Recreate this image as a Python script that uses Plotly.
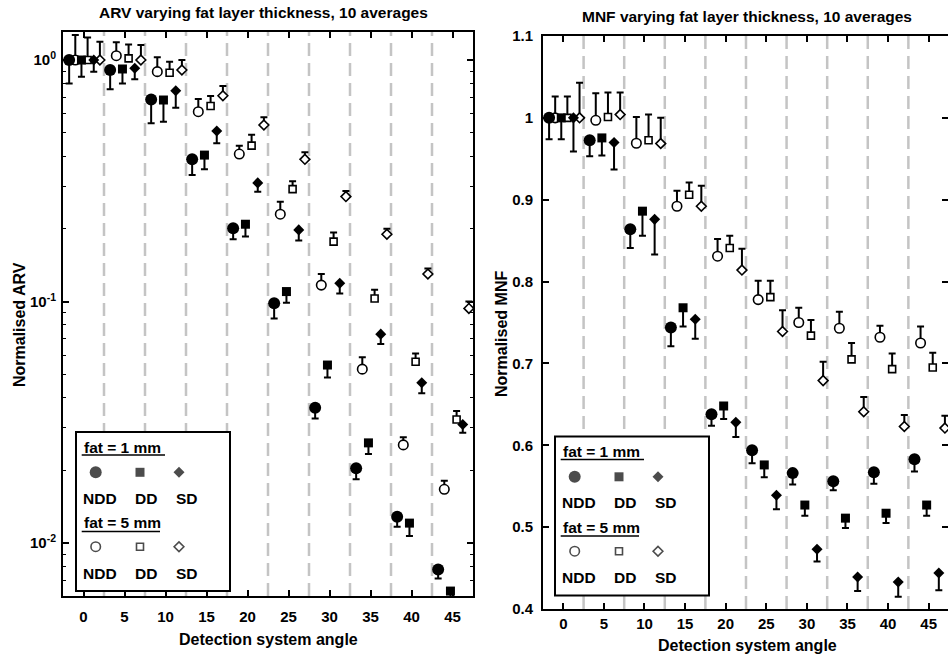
import plotly.graph_objects as go

# ---------------- data ----------------
angles = [0, 5, 10, 15, 20, 25, 30, 35, 40, 45]
series_names = ["NDD (fat 1 mm)", "NDD (fat 5 mm)", "DD (fat 1 mm)", "DD (fat 5 mm)", "SD (fat 1 mm)", "SD (fat 5 mm)"]
angle_offsets = [-1.75, -1.0, -0.25, 0.5, 1.25, 2.0]

# ARV (normalised) -- fat 1 mm values with lower bound, fat 5 mm values with upper bound
arv_ndd1 = [1.0, 0.909, 0.687, 0.388, 0.201, 0.0983, 0.0363, 0.0204, 0.01285, 0.00778]
arv_ndd1_low = [0.80, 0.756, 0.547, 0.334, 0.181, 0.0851, 0.0328, 0.0184, 0.0117, 0.00714]
arv_ndd5 = [1.0, 1.042, 0.895, 0.611, 0.408, 0.230, 0.117, 0.0525, 0.0255, 0.0167]
arv_ndd5_high = [1.269, 1.184, 1.026, 0.69, 0.442, 0.259, 0.130, 0.0588, 0.0274, 0.0181]
arv_dd1 = [1.0, 0.918, 0.683, 0.404, 0.209, 0.110, 0.0546, 0.026, 0.0121, 0.00633]
arv_dd1_low = [0.853, 0.80, 0.555, 0.353, 0.186, 0.0989, 0.0485, 0.0234, 0.0107, 0.0057]
arv_dd5 = [1.0, 1.016, 0.886, 0.645, 0.442, 0.292, 0.177, 0.103, 0.0563, 0.0325]
arv_dd5_high = [1.24, 1.16, 0.984, 0.709, 0.49, 0.315, 0.193, 0.112, 0.061, 0.0352]
arv_sd1 = [1.0, 0.924, 0.746, 0.508, 0.310, 0.198, 0.119, 0.0733, 0.0461, 0.031]
arv_sd1_low = [0.895, 0.832, 0.635, 0.452, 0.285, 0.179, 0.108, 0.0667, 0.0417, 0.0286]
arv_sd5 = [1.0, 1.0, 0.909, 0.711, 0.538, 0.388, 0.272, 0.19, 0.130, 0.0937]
arv_sd5_high = [1.19, 1.154, 1.0, 0.78, 0.579, 0.415, 0.287, 0.2, 0.137, 0.1]

# MNF (normalised)
mnf_ndd1 = [1.0, 0.9726, 0.864, 0.744, 0.638, 0.594, 0.566, 0.556, 0.567, 0.583]
mnf_ndd1_low = [0.974, 0.953, 0.841, 0.721, 0.624, 0.578, 0.552, 0.545, 0.553, 0.568]
mnf_ndd5 = [1.0, 0.997, 0.969, 0.892, 0.831, 0.778, 0.750, 0.743, 0.732, 0.725]
mnf_ndd5_high = [1.026, 1.03, 1.001, 0.911, 0.852, 0.801, 0.768, 0.763, 0.746, 0.745]
mnf_dd1 = [1.0, 0.9755, 0.886, 0.768, 0.648, 0.576, 0.527, 0.511, 0.517, 0.527]
mnf_dd1_low = [0.974, 0.954, 0.856, 0.745, 0.632, 0.561, 0.514, 0.499, 0.505, 0.514]
mnf_dd5 = [1.0, 1.001, 0.9726, 0.906, 0.841, 0.781, 0.734, 0.705, 0.693, 0.695]
mnf_dd5_high = [1.026, 1.031, 1.004, 0.921, 0.856, 0.801, 0.753, 0.725, 0.712, 0.713]
mnf_sd1 = [1.0, 0.970, 0.876, 0.754, 0.628, 0.539, 0.473, 0.439, 0.433, 0.444]
mnf_sd1_low = [0.959, 0.937, 0.833, 0.730, 0.610, 0.522, 0.458, 0.422, 0.415, 0.423]
mnf_sd5 = [1.0, 1.004, 0.9686, 0.892, 0.814, 0.739, 0.679, 0.641, 0.623, 0.621]
mnf_sd5_high = [1.043, 1.031, 1.0, 0.917, 0.840, 0.765, 0.702, 0.659, 0.637, 0.636]

x_ticks = [0, 5, 10, 15, 20, 25, 30, 35, 40, 45]
arv_tickvals = [0.01, 0.1, 1]
arv_ticktext = ["10<sup>-2</sup>", "10<sup>-1</sup>", "10<sup>0</sup>"]
mnf_tickvals = [0.4, 0.5, 0.6, 0.7, 0.8, 0.9, 1.0, 1.1]
mnf_ticktext = ["0.4", "0.5", "0.6", "0.7", "0.8", "0.9", "1", "1.1"]
separators = [2.5, 7.5, 12.5, 17.5, 22.5, 27.5, 32.5, 37.5, 42.5]
legend_groups = ["fat = 1 mm ", "fat = 5 mm"]
legend_labels = ["NDD", "DD", "SD"]

# ---------------- styling ----------------
W, H = 948, 660
FONT = "Liberation Sans, Arial, sans-serif"
filled_sym = [("circle", 12), ("square", 9), ("diamond", 8.5)]
open_sym = [("circle", 9.5), ("square", 7), ("diamond", 7.5)]

fig = go.Figure()

def add_series(vals, bound, idx, xa, ya, filled):
    kind = idx // 2
    xs = [a + angle_offsets[idx] for a in angles]
    if filled:
        sym, size = filled_sym[kind]
        err = dict(type="data", symmetric=False, array=[0] * len(vals),
                   arrayminus=[v - b for v, b in zip(vals, bound)],
                   color="black", thickness=2, width=3.5)
        marker = dict(symbol=sym, size=size, color="black", line=dict(width=0))
    else:
        sym, size = open_sym[kind]
        err = dict(type="data", symmetric=False, array=[b - v for v, b in zip(vals, bound)],
                   arrayminus=[0] * len(vals), color="black", thickness=2, width=3.5)
        marker = dict(symbol=sym, size=size, color="white", line=dict(width=1.6, color="black"))
    fig.add_trace(go.Scatter(x=xs, y=vals, mode="markers", marker=marker, error_y=err,
                             xaxis=xa, yaxis=ya, name=series_names[idx], showlegend=False))

arv = [(arv_ndd1, arv_ndd1_low), (arv_ndd5, arv_ndd5_high), (arv_dd1, arv_dd1_low),
       (arv_dd5, arv_dd5_high), (arv_sd1, arv_sd1_low), (arv_sd5, arv_sd5_high)]
mnf = [(mnf_ndd1, mnf_ndd1_low), (mnf_ndd5, mnf_ndd5_high), (mnf_dd1, mnf_dd1_low),
       (mnf_dd5, mnf_dd5_high), (mnf_sd1, mnf_sd1_low), (mnf_sd5, mnf_sd5_high)]

for data, xa, ya in [(arv, "x", "y"), (mnf, "x2", "y2")]:
    # open markers (fat 5 mm) first, then filled on top
    for idx in [1, 3, 5]:
        add_series(data[idx][0], data[idx][1], idx, xa, ya, False)
    for idx in [0, 2, 4]:
        add_series(data[idx][0], data[idx][1], idx, xa, ya, True)

# separators
shapes = []
for xref, yref in [("x", "y domain"), ("x2", "y2 domain")]:
    for s in separators:
        shapes.append(dict(type="line", xref=xref, yref=yref, x0=s, x1=s, y0=0, y1=1,
                           layer="below", line=dict(color="#c4c4c4", width=2.5, dash="13px,7px")))

annotations = []
def txt(x, y, s, size=15, xanchor="center", angle=0):
    annotations.append(dict(x=x, y=y, xref="x3", yref="y3", text=s, showarrow=False,
                            xanchor=xanchor, yanchor="middle", textangle=angle,
                            font=dict(family=FONT, size=size, color="black", weight="bold")))

# titles and axis titles
txt(263, 12, "ARV varying fat layer thickness, 10 averages", 15.5)
txt(747, 16, "MNF varying fat layer thickness, 10 averages", 15.5)
txt(19, 325, "Normalised ARV", 16, angle=-90)
txt(501, 334, "Normalised MNF", 16, angle=-90)
txt(268, 639, "Detection system angle", 16)
txt(747, 645, "Detection system angle", 16)

# legend boxes (pixel layout on overlay axis)
leg_x = [95.7, 140, 179]
lab_x = [99.7, 145.8, 186.5]
for dx, dy in [(0, 0), (479, 4.5)]:
    shapes.append(dict(type="rect", xref="x3", yref="y3", x0=76 + dx, x1=230 + dx,
                       y0=432 + dy, y1=591 + dy, line=dict(color="black", width=2),
                       fillcolor="white", layer="below"))
    for gi, (ty, uy, my, ly) in enumerate([(447, 455, 472.3, 498.3), (522.5, 531.5, 546.7, 573.3)]):
        txt(81.7 + dx, ty + dy, legend_groups[gi], 15.5, xanchor="left")
        shapes.append(dict(type="line", xref="x3", yref="y3", x0=81.7 + dx,
                           x1=(165 if gi == 0 else 160) + dx, y0=uy + dy, y1=uy + dy,
                           line=dict(color="black", width=1.5)))
        for k in range(3):
            txt(lab_x[k] + dx, ly + dy, legend_labels[k], 15.5)
        syms = filled_sym if gi == 0 else open_sym
        fig.add_trace(go.Scatter(
            x=[v + dx for v in leg_x], y=[my + dy] * 3, mode="markers", xaxis="x3", yaxis="y3",
            showlegend=False, hoverinfo="skip",
            marker=dict(symbol=[s for s, _ in syms], size=[z for _, z in syms],
                        color="black" if gi == 0 else "white",
                        line=dict(width=0 if gi == 0 else 1.6, color="black"))))

axis_common = dict(showline=True, linewidth=2, linecolor="black", mirror="ticks",
                   ticks="inside", ticklen=6, tickwidth=1.5, tickcolor="black",
                   showgrid=False, zeroline=False, automargin=False,
                   tickfont=dict(family=FONT, size=15, color="black", weight="bold"))

minor_vals = [k * 10 ** e for e in (-3, -2, -1) for k in range(2, 10)]
minor_vals = [v for v in minor_vals if 0.00604 <= v <= 1.3]

fig.update_layout(
    template="none",
    width=W, height=H, autosize=False,
    margin=dict(l=0, r=0, t=0, b=0, pad=0),
    paper_bgcolor="white", plot_bgcolor="rgba(0,0,0,0)",
    showlegend=False,
    xaxis=dict(domain=[63 / W, 473 / W], range=[-2.5, 47.5], tickmode="array",
               tickvals=x_ticks, anchor="y", ticklabelstandoff=6, **axis_common),
    yaxis=dict(domain=[(H - 596) / H, (H - 32) / H], type="log", range=[-2.219, 0.116],
               tickmode="array", tickvals=arv_tickvals, ticktext=arv_ticktext, anchor="x",
               ticklabelstandoff=2,
               minor=dict(tickmode="array", tickvals=minor_vals, ticks="inside", ticklen=3,
                          tickwidth=1.2, tickcolor="black"),
               **axis_common),
    xaxis2=dict(domain=[543 / W, 1.0], range=[-2.5, 47.38], tickmode="array",
                tickvals=x_ticks, anchor="y2", ticklabelstandoff=0, **axis_common),
    yaxis2=dict(domain=[(H - 609) / H, (H - 36) / H], range=[0.4, 1.1], tickmode="array",
                tickvals=mnf_tickvals, ticktext=mnf_ticktext, anchor="x2",
                ticklabelstandoff=5, **axis_common),
    xaxis3=dict(domain=[0, 1], range=[0, W], visible=False, fixedrange=True, anchor="y3",
                automargin=False),
    yaxis3=dict(domain=[0, 1], range=[H, 0], visible=False, fixedrange=True, anchor="x3",
                automargin=False),
    shapes=shapes,
    annotations=annotations,
)

fig.write_html("out.html", config={"displayModeBar": False},
               post_script="document.body.style.margin='0';")
